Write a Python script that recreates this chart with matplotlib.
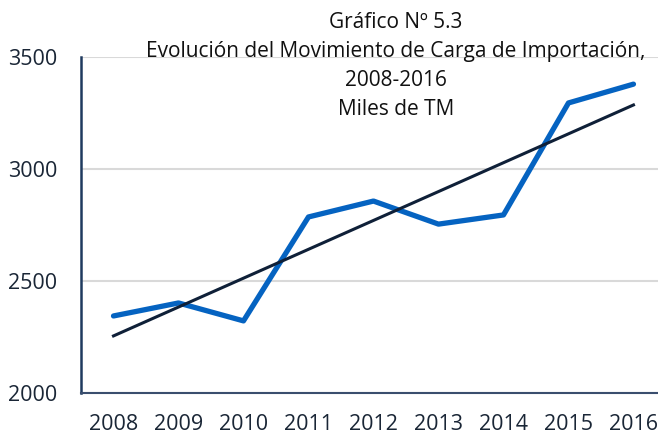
import numpy as np
import matplotlib
matplotlib.use("Agg")
import matplotlib.pyplot as plt

years = ["2008", "2009", "2010", "2011", "2012", "2013", "2014", "2015", "2016"]
carga = [2344, 2402, 2322, 2786, 2857, 2754, 2795, 3295, 3379]
y_ticks = [2000, 2500, 3000, 3500]
title_lines = ["Gráfico Nº 5.3",
               "Evolución del Movimiento de Carga de Importación,",
               "2008-2016",
               "Miles de TM"]

plt.rcParams["font.family"] = ["Open Sans", "DejaVu Sans"]

fig = plt.figure(figsize=(6.58, 4.36), dpi=100)
ax = fig.add_axes([0.1231, 0.0986, 0.889, 0.7706])

x = np.arange(len(years))
ax.plot(x, carga, color="#0563C1", lw=3.8, solid_joinstyle="round",
        solid_capstyle="round", zorder=3)

# linear trend
coef = np.polyfit(x, carga, 1)
ax.plot(x, np.polyval(coef, x), color="#0f2038", lw=2.2, zorder=4)

ax.set_xlim(-0.5, len(years) - 0.5)
ax.set_ylim(2000, 3500)
ax.set_yticks(y_ticks)
ax.set_xticks(x)
ax.set_xticklabels(years)
ax.tick_params(axis="both", length=0, labelsize=15.5, colors="#1a2636")
ax.tick_params(axis="x", pad=15)
ax.tick_params(axis="y", pad=17)

ax.grid(axis="y", color="#d9d9d9", lw=1.5)
ax.set_axisbelow(True)
for s in ["top", "right"]:
    ax.spines[s].set_visible(False)
ax.spines["left"].set_color("#1f3a5f")
ax.spines["left"].set_linewidth(1.8)
ax.spines["bottom"].set_color("#3a4e6e")
ax.spines["bottom"].set_linewidth(1.5)

for i, line in enumerate(title_lines):
    fig.text(396 / 658, 1 - (22.7 + 28.8 * i) / 436, line, ha="center",
             va="center", fontsize=15, color="#111111")

fig.savefig("out.png", dpi=100)
